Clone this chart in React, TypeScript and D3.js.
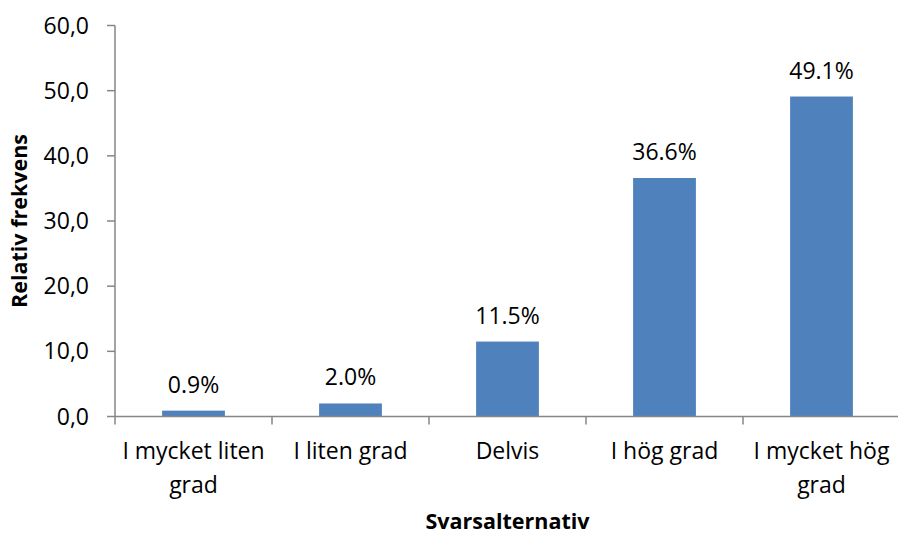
import { useMemo } from "react";
import * as d3 from "d3";

const WIDTH = 898;
const HEIGHT = 534;
const FONT = "'Open Sans', 'Noto Sans', sans-serif";
const AXIS_COLOR = "#868686";
const BAR_COLOR = "#4f81bd";

const categories = ["I mycket liten grad", "I liten grad", "Delvis", "I hög grad", "I mycket hög grad"];
const categoryLines = [["I mycket liten", "grad"], ["I liten grad"], ["Delvis"], ["I hög grad"], ["I mycket hög", "grad"]];
const values = [0.9, 2.0, 11.5, 36.6, 49.1];
const yTicks = [0, 10, 20, 30, 40, 50, 60];

const margin = { top: 25.5, right: -2, bottom: 117.5, left: 115 };

function App() {
  const xScale = useMemo(
    () =>
      d3
        .scaleBand()
        .domain(categories)
        .range([margin.left, WIDTH - margin.right])
        .paddingInner(0.6)
        .paddingOuter(0.3),
    []
  );
  const yScale = useMemo(
    () => d3.scaleLinear().domain([0, 60]).range([HEIGHT - margin.bottom, margin.top]),
    []
  );

  const step = xScale.step();
  const x0 = margin.left;
  const x1 = WIDTH - margin.right;
  const y0 = yScale(0);
  const fmtTick = (v) => d3.format(".1f")(v).replace(".", ",");

  return (
    <svg
      width={WIDTH}
      height={HEIGHT}
      style={{ position: "absolute", left: 0, top: 0, background: "#fff" }}
      fontFamily={FONT}
    >
      {/* bars */}
      {categories.map((c, i) => (
        <rect
          key={c}
          x={xScale(c)}
          y={yScale(values[i])}
          width={xScale.bandwidth()}
          height={y0 - yScale(values[i])}
          fill={BAR_COLOR}
        />
      ))}
      {/* value labels */}
      {categories.map((c, i) => (
        <text
          key={c}
          x={xScale(c) + xScale.bandwidth() / 2}
          y={yScale(values[i]) - 18}
          textAnchor="middle"
          fontSize={23}
          fill="#000"
        >
          {values[i].toFixed(1) + "%"}
        </text>
      ))}
      {/* y axis */}
      <line x1={x0} x2={x0} y1={yScale(60)} y2={y0} stroke={AXIS_COLOR} strokeWidth={1.5} />
      {yTicks.map((t) => (
        <g key={t}>
          <line x1={x0 - 8} x2={x0} y1={yScale(t)} y2={yScale(t)} stroke={AXIS_COLOR} strokeWidth={1.5} />
          <text
            x={x0 - 26}
            y={yScale(t)}
            dy="0.35em"
            textAnchor="end"
            fontSize={23}
            fill="#000"
          >
            {fmtTick(t)}
          </text>
        </g>
      ))}
      {/* x axis */}
      <line x1={x0} x2={x1} y1={y0} y2={y0} stroke={AXIS_COLOR} strokeWidth={1.5} />
      {d3.range(categories.length + 1).map((i) => (
        <line
          key={i}
          x1={x0 + i * step}
          x2={x0 + i * step}
          y1={y0}
          y2={y0 + 8}
          stroke={AXIS_COLOR}
          strokeWidth={1.5}
        />
      ))}
      {categories.map((c, i) => (
        <text
          key={c}
          x={xScale(c) + xScale.bandwidth() / 2}
          y={y0 + 42}
          textAnchor="middle"
          fontSize={23}
          fill="#000"
        >
          {categoryLines[i].map((line, j) => (
            <tspan key={j} x={xScale(c) + xScale.bandwidth() / 2} dy={j === 0 ? 0 : 34}>
              {line}
            </tspan>
          ))}
        </text>
      ))}
      {/* axis titles */}
      <text
        x={(x0 + x1) / 2}
        y={529}
        textAnchor="middle"
        fontSize={21.5}
        fontWeight="bold"
        fill="#000"
      >
        Svarsalternativ
      </text>
      <text
        transform={`translate(27, ${(yScale(60) + y0) / 2}) rotate(-90)`}
        textAnchor="middle"
        fontSize={21.5}
        fontWeight="bold"
        fill="#000"
      >
        Relativ frekvens
      </text>
    </svg>
  );
}

export default App;
